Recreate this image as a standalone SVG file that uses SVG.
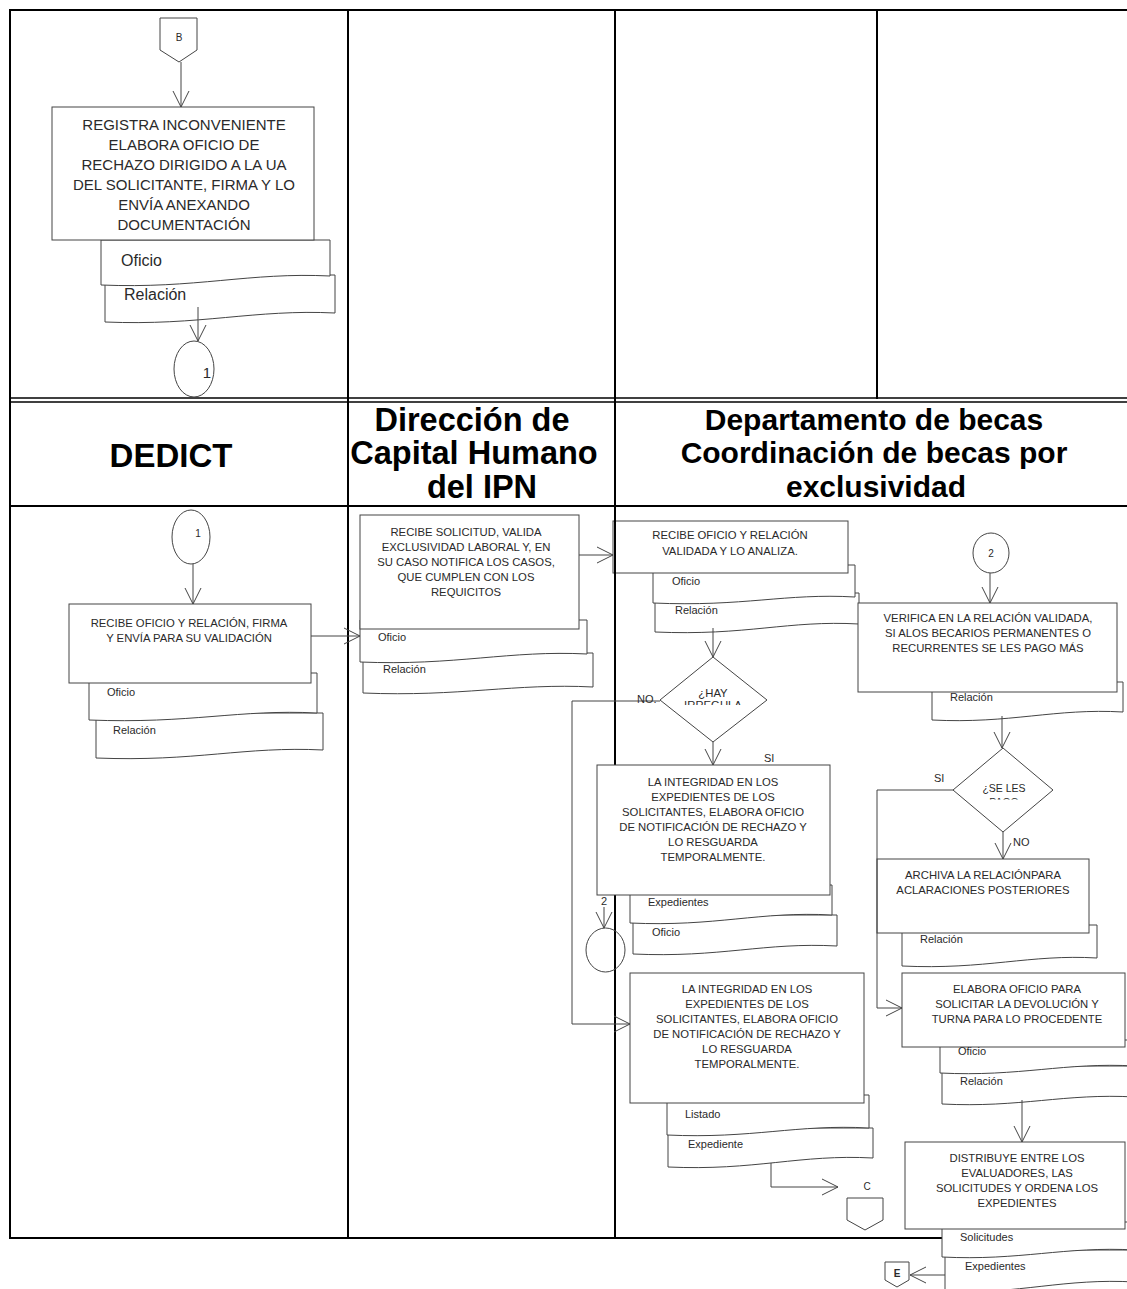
<svg xmlns="http://www.w3.org/2000/svg" width="1127" height="1289" viewBox="0 0 1127 1289">
<style>
.grid{stroke:#000;stroke-width:2;fill:none}
.box{fill:#fff;stroke:#444;stroke-width:1}
.circ{fill:none;stroke:#444;stroke-width:1}
.conn{fill:none;stroke:#444;stroke-width:1;marker-end:url(#arr)}
text{font-family:"Liberation Sans",Arial,sans-serif;fill:#2a2a2a}
.bt{font-size:11.3px;text-anchor:middle}
.bt2{font-size:15px;text-anchor:middle}
.dl{font-size:11px}
.dl2{font-size:16px}
.hd{font-size:30px;font-weight:bold;fill:#000;text-anchor:middle}
.hd2{font-size:32.5px}
.lb{font-size:11px}
.mid{text-anchor:middle}
</style>
<defs>
<marker id="arr" markerUnits="userSpaceOnUse" markerWidth="20" markerHeight="20" viewBox="0 0 20 20" refX="17" refY="9" orient="auto">
<path d="M1,1 L17,9 L1,17" fill="none" stroke="#444" stroke-width="1"/>
</marker>
<clipPath id="clipHay"><rect x="670" y="680" width="90" height="25"/></clipPath>
<clipPath id="clipSe"><rect x="960" y="770" width="90" height="29.5"/></clipPath>
</defs>
<rect width="1127" height="1289" fill="#fff"/>

<g id="n-dept-recibe">
<path class="box" d="M655,593 H859 V624 C788,620 747,636 655,632 Z"/>
<path class="box" d="M653,565 H855 V597 C785,593 744,607 653,603 Z"/>
<rect class="box" x="613" y="521" width="235" height="52"/>
<text class="bt" x="730" y="539">RECIBE OFICIO Y RELACIÓN</text>
<text class="bt" x="730" y="555">VALIDADA Y LO ANALIZA.</text>
<text class="dl" x="672" y="585">Oficio</text>
<text class="dl" x="675" y="614">Relación</text>
</g>

<g id="grid">
<line class="grid" x1="9" y1="10" x2="1127" y2="10"/>
<line class="grid" x1="10" y1="9" x2="10" y2="1239"/>
<line class="grid" x1="348" y1="10" x2="348" y2="1238"/>
<line class="grid" x1="615" y1="10" x2="615" y2="1238"/>
<line class="grid" x1="877" y1="10" x2="877" y2="399"/>
<line stroke="#000" stroke-width="1.3" x1="10" y1="398" x2="1127" y2="398"/>
<line stroke="#000" stroke-width="1.3" x1="10" y1="402" x2="1127" y2="402"/>
<line class="grid" x1="10" y1="506" x2="1127" y2="506"/>
<line class="grid" x1="9" y1="1238" x2="1127" y2="1238"/>
</g>

<g id="headers">
<text class="hd" x="171" y="467" style="font-size:33px">DEDICT</text>
<text class="hd hd2" x="472" y="431">Dirección de</text>
<text class="hd hd2" x="474" y="464">Capital Humano</text>
<text class="hd hd2" x="482" y="498">del IPN</text>
<text class="hd" x="874" y="430">Departamento de becas</text>
<text class="hd" x="874" y="463">Coordinación de becas por</text>
<text class="hd" x="876" y="497">exclusividad</text>
</g>

<g id="n-offpage-b">
<polygon class="box" points="160,18 197,18 197,50 179,62 160,50"/>
<text class="lb mid" x="179" y="41" style="font-size:10px">B</text>
</g>

<g id="n-registra">
<path class="box" d="M105,275 H335 V313 C255,309 200,326 105,322 Z"/>
<path class="box" d="M101,240 H330 V276 C250,272 195,289 101,285 Z"/>
<rect class="box" x="52" y="107" width="262" height="133"/>
<text class="bt2" x="184" y="130">REGISTRA INCONVENIENTE</text>
<text class="bt2" x="184" y="150">ELABORA OFICIO DE</text>
<text class="bt2" x="184" y="170">RECHAZO DIRIGIDO A LA UA</text>
<text class="bt2" x="184" y="190">DEL SOLICITANTE, FIRMA Y LO</text>
<text class="bt2" x="184" y="210">ENVÍA ANEXANDO</text>
<text class="bt2" x="184" y="230">DOCUMENTACIÓN</text>
<text class="dl2" x="121" y="266">Oficio</text>
<text class="dl2" x="124" y="300">Relación</text>
</g>

<g id="n-circle1-top">
<ellipse class="circ" cx="194" cy="369" rx="20" ry="28"/>
<text class="mid" x="207" y="378" style="font-size:15px">1</text>
</g>

<g id="n-circle1">
<ellipse class="circ" cx="191" cy="537" rx="19" ry="27"/>
<text class="mid" x="198" y="537" style="font-size:10px">1</text>
</g>

<g id="n-dedict-recibe">
<path class="box" d="M96,713 H323 V750 C245,746 195,762 96,758 Z"/>
<path class="box" d="M89,673 H317 V713 C240,709 190,724 89,720 Z"/>
<rect class="box" x="69" y="604" width="242" height="79"/>
<text class="bt" x="189" y="627">RECIBE OFICIO Y RELACIÓN, FIRMA</text>
<text class="bt" x="189" y="642">Y ENVÍA PARA SU VALIDACIÓN</text>
<text class="dl" x="107" y="696">Oficio</text>
<text class="dl" x="113" y="734">Relación</text>
</g>

<g id="n-dch">
<path class="box" d="M363,653 H593 V687 C515,683 460,697 363,693 Z"/>
<path class="box" d="M360,620 H587 V654 C510,650 455,666 360,662 Z"/>
<rect class="box" x="360" y="515" width="219" height="114"/>
<text class="bt" x="466" y="536">RECIBE SOLICITUD, VALIDA</text>
<text class="bt" x="466" y="551">EXCLUSIVIDAD LABORAL Y, EN</text>
<text class="bt" x="466" y="566">SU CASO NOTIFICA LOS CASOS,</text>
<text class="bt" x="466" y="581">QUE CUMPLEN CON LOS</text>
<text class="bt" x="466" y="596">REQUICITOS</text>
<text class="dl" x="378" y="641">Oficio</text>
<text class="dl" x="383" y="673">Relación</text>
</g>

<g id="n-hay">
<polygon class="box" points="713,657 767,700 713,742 660,700"/>
<text class="bt" x="713" y="697">¿HAY</text>
<text class="bt" x="713" y="709" clip-path="url(#clipHay)">IRREGULA</text>
</g>

<g id="n-integridad1">
<path class="box" d="M633,915 H837 V946 C765,942 720,958 633,954 Z"/>
<path class="box" d="M630,885 H832 V915 C760,911 715,927 630,923 Z"/>
<rect class="box" x="597" y="765" width="233" height="130"/>
<text class="bt" x="713" y="786">LA INTEGRIDAD EN LOS</text>
<text class="bt" x="713" y="801">EXPEDIENTES DE LOS</text>
<text class="bt" x="713" y="816">SOLICITANTES, ELABORA OFICIO</text>
<text class="bt" x="713" y="831">DE NOTIFICACIÓN DE RECHAZO Y</text>
<text class="bt" x="713" y="846">LO RESGUARDA</text>
<text class="bt" x="713" y="861">TEMPORALMENTE.</text>
<text class="dl" x="648" y="906">Expedientes</text>
<text class="dl" x="652" y="936">Oficio</text>
</g>

<g id="n-circle2-left">
<ellipse class="circ" cx="605.5" cy="950" rx="19.5" ry="22"/>
</g>

<g id="n-integridad2">
<path class="box" d="M668,1128 H873 V1158 C800,1154 755,1171 668,1167 Z"/>
<path class="box" d="M667,1095 H869 V1128 C797,1124 752,1139 667,1135 Z"/>
<rect class="box" x="630" y="973" width="234" height="130"/>
<text class="bt" x="747" y="993">LA INTEGRIDAD EN LOS</text>
<text class="bt" x="747" y="1008">EXPEDIENTES DE LOS</text>
<text class="bt" x="747" y="1023">SOLICITANTES, ELABORA OFICIO</text>
<text class="bt" x="747" y="1038">DE NOTIFICACIÓN DE RECHAZO Y</text>
<text class="bt" x="747" y="1053">LO RESGUARDA</text>
<text class="bt" x="747" y="1068">TEMPORALMENTE.</text>
<text class="dl" x="685" y="1118">Listado</text>
<text class="dl" x="688" y="1148">Expediente</text>
</g>

<g id="n-offpage-c">
<polygon class="box" points="847,1198 883,1198 883,1220 865,1230 847,1220"/>
<text class="lb mid" x="867" y="1190" style="font-size:10px">C</text>
</g>

<g id="n-circle2">
<ellipse class="circ" cx="991" cy="553" rx="18" ry="20"/>
<text class="mid" x="991" y="557" style="font-size:10px">2</text>
</g>

<g id="n-verifica">
<path class="box" d="M932,682 H1123 V712 C1055,708 1010,724 932,720 Z"/>
<rect class="box" x="858" y="603" width="259" height="89"/>
<text class="bt" x="988" y="622">VERIFICA EN LA RELACIÓN VALIDADA,</text>
<text class="bt" x="988" y="637">SI ALOS BECARIOS PERMANENTES O</text>
<text class="bt" x="988" y="652">RECURRENTES SE LES PAGO MÁS</text>
<text class="dl" x="950" y="701">Relación</text>
</g>

<g id="n-seles">
<polygon class="box" points="1003,748 1053,790 1003,832 953,790"/>
<text class="bt" x="1004" y="792" style="font-size:10.5px">¿SE LES</text>
<text class="bt" x="1004" y="806" style="font-size:10.5px" clip-path="url(#clipSe)">PAGO</text>
</g>

<g id="n-archiva">
<path class="box" d="M902,925 H1097 V958 C1030,954 985,970 902,966 Z"/>
<rect class="box" x="877" y="859" width="212" height="74"/>
<text class="bt" x="983" y="879">ARCHIVA LA RELACIÓNPARA</text>
<text class="bt" x="983" y="894">ACLARACIONES POSTERIORES</text>
<text class="dl" x="920" y="943">Relación</text>
</g>

<g id="n-elabora">
<path class="box" d="M942,1066 H1135 V1097 C1065,1093 1020,1108 942,1104 Z"/>
<path class="box" d="M940,1040 H1135 V1066 C1065,1062 1020,1077 940,1073 Z"/>
<rect class="box" x="902" y="973" width="223" height="74"/>
<text class="bt" x="1017" y="993">ELABORA OFICIO PARA</text>
<text class="bt" x="1017" y="1008">SOLICITAR LA DEVOLUCIÓN Y</text>
<text class="bt" x="1017" y="1023">TURNA PARA LO PROCEDENTE</text>
<text class="dl" x="958" y="1055">Oficio</text>
<text class="dl" x="960" y="1085">Relación</text>
</g>

<g id="n-distribuye">
<path class="box" d="M945,1250 H1135 V1282 C1065,1278 1020,1294 945,1292 Z"/>
<path class="box" d="M942,1222 H1135 V1250 C1065,1246 1020,1261 942,1257 Z"/>
<rect class="box" x="905" y="1142" width="220" height="87"/>
<text class="bt" x="1017" y="1162">DISTRIBUYE ENTRE LOS</text>
<text class="bt" x="1017" y="1177">EVALUADORES, LAS</text>
<text class="bt" x="1017" y="1192">SOLICITUDES Y ORDENA LOS</text>
<text class="bt" x="1017" y="1207">EXPEDIENTES</text>
<text class="dl" x="960" y="1241">Solicitudes</text>
<text class="dl" x="965" y="1270">Expedientes</text>
</g>

<g id="n-offpage-e">
<polygon class="box" points="885,1262 909,1262 909,1280 897,1287 885,1280"/>
<text class="lb mid" x="897" y="1277" style="font-size:10px;font-weight:bold">E</text>
</g>

<g id="connectors">
<path class="conn" d="M181,62 V107"/>
<path class="conn" d="M198,307 V341"/>
<path class="conn" d="M193,564 V604"/>
<path class="conn" d="M311,636 H360"/>
<path class="conn" d="M579,555 H613"/>
<path class="conn" d="M713,628 V657"/>
<path class="conn" d="M713,742 V765"/>
<path class="conn" d="M660,701 H572 V1024 H630"/>
<path class="conn" d="M604,907 V928"/>
<path class="conn" d="M990,573 V603"/>
<path class="conn" d="M1002,716 V748"/>
<path class="conn" d="M1003,832 V859"/>
<path class="conn" d="M953,790 H877 V1008 H902"/>
<path class="conn" d="M1022,1100 V1142"/>
<path class="conn" d="M771,1163 V1187 H838"/>
<path class="conn" d="M945,1275 H910"/>
<text class="lb" x="637" y="703">NO.</text>
<text class="lb" x="764" y="762">SI</text>
<text class="lb" x="934" y="782">SI</text>
<text class="lb" x="1013" y="846">NO</text>
<text class="lb mid" x="604" y="905">2</text>
</g>
</svg>
